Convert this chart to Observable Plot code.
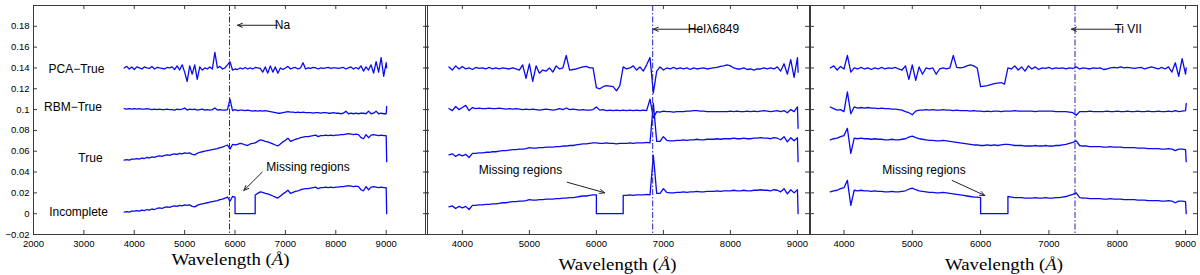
<!DOCTYPE html>
<html>
<head>
<meta charset="utf-8">
<script src="https://cdn.jsdelivr.net/npm/d3@7"></script>
<script src="https://cdn.jsdelivr.net/npm/@observablehq/plot@0.6"></script>
<style>
  html, body { margin: 0; padding: 0; background: #fff; }
  #chart { position: relative; width: 1200px; height: 275px; overflow: hidden; }
  #chart > div { position: absolute; top: 0; }
</style>
</head>
<body>
<div id="chart"></div>
<script>
// ---------- data (spectrum and residual values in units of 1e-3) ----------
const wavelengths = [
  3800,3850,3900,3950,4000,4050,4100,4150,4200,4250,
  4300,4350,4400,4450,4500,4550,4600,4650,4700,4750,
  4800,4850,4900,4950,5000,5050,5100,5150,5200,5250,
  5300,5350,5400,5450,5500,5550,5600,5650,5700,5750,
  5800,5850,5900,5950,6000,6050,6100,6150,6200,6250,
  6300,6350,6400,6450,6500,6550,6600,6650,6700,6750,
  6800,6850,6900,6950,7000,7050,7100,7150,7200,7250,
  7300,7350,7400,7450,7500,7550,7600,7650,7700,7750,
  7800,7850,7900,7950,8000,8050,8100,8150,8200,8250,
  8300,8350,8400,8450,8500,8550,8600,8650,8700,8750,
  8800,8850,8900,8950,9000,9010
];

const seriesNames = ["PCA\u2212True", "RBM\u2212True", "True", "Incomplete"];
const seriesOffsets = [0.14, 0.10, 0.05, 0];
const missingRange = [6000, 6400];

// Panel 1 (Na)
const p1Spectrum = [
  1.5,2,1.5,2.5,2.5,3,2.5,3.5,3,4,
  3.5,4.5,4,5,5.5,5,6,6.5,6,7,
  7.5,7,8,7.5,8.5,8,8.5,7,6.5,8,
  9,9.5,10,10.5,11,11.5,12,12.5,13.5,14,
  15,16,12,16.5,16,16.5,17.5,17,16,15.5,
  17,17.5,18,19.5,21,20.5,19.5,19,18,17,
  16,15,17,19,20.5,22.5,19.5,20.5,21.5,22,
  23,23.5,24,24,24.5,25,25.5,24,25,25,
  25.5,25,25.5,25,25.5,25.5,26,26,26.5,27,
  26.5,26,26.5,26,23,22,26,23,25.5,26,
  25.5,25,25.5,25,25,0
];
const p1Rbm = [
  1,0.5,1,0.5,1,0.5,1,0.5,0.5,1,
  0.5,0,0.5,0,0.5,0,0,0.5,0,0,
  -0.5,0.5,0,0.5,1.5,-0.5,0.5,0,0.5,-0.5,
  0,0.5,-0.5,0,-0.5,0,1.5,-0.5,0,-0.5,
  -0.5,0,10,-1,0,-1,-0.5,-0.5,-1,-0.5,
  -1,-1.5,-1,-1.5,-1,-1.5,-1,-1.5,-2,-2.5,
  -3,-3.5,-3.5,-3,-2.5,-2,-2.5,-2.5,-3,-2.5,
  -3,-2.5,-3,-3,-3,-3.5,-3,-3,-3.5,-3,
  -3,-3.5,-3.5,-3,-3.5,-3.5,-4,-3.5,-1.5,-4,
  -3.5,-4,-3.5,-4,-3.5,-3.5,-4,-1.5,-4,-3.5,
  -1.5,-4,-3.5,-4,-4,3
];
const p1Pca = [
  0,1.5,-1,1,-1.5,1,0,-1,1,0,
  -0.5,1.5,-1,0.5,0,-0.5,-1,0.5,0,1,
  -1.5,2,-2,3,-4,-13,2,-6,3,-11,
  1,-2,0,-1,1,-1,15,0,1.5,-1,
  0,3,6,-2,-1,-1.5,0,-1,0.5,-1,
  0,-1,0.5,0,-0.5,-4,1,-5,2,-4,
  1,-5,0,-1.5,0,1.5,-1,0,0.5,-1,
  0,5,-1,0,-0.5,0.5,0,-1,0,-0.5,
  0,0.5,-0.5,0,0,-0.5,0,0.5,-1,0,
  1,-1,0.5,-1,2,-3,1,-2,3,-5,
  6,-4,10,-8,5,0
];

// Panel 2 (HeI 6849)
const p2Spectrum = [
  6.5,7.5,5,7,5.5,7,4,8,8,8.5,
  8.5,9,9,9.5,9.5,10,10.5,10.5,11,11.5,
  11.5,12,12,12.5,13.5,13,13,13.5,13.5,14,
  14,14,14.5,14.5,15,15,15.5,15.5,16,16.5,
  17,17,17.5,18,18,17.5,17.5,18,17.5,17.5,
  17,17.5,17.5,17.5,18,17.5,18,18,18,18.5,
  18,56,19.5,19.5,24,20.5,20,20,20.5,20.5,
  21,20.5,21,21,21.5,21,21,21.5,21.5,21.5,
  22,21.5,22,22,22,22.5,22,22,22.5,22,
  22,22.5,22.5,23,22.5,22.5,22,23,22.5,21,
  24,19,23,20,23,0
];
const p2Rbm = [
  1,-1,3,0,2,4,-1,2,1,1.5,
  1,1,1.5,1,1,1.5,1,0.5,1,0.5,
  1,0.5,0,0.5,0,0.5,0,-0.5,0,0.5,
  0,-0.5,0,1,0,1.5,0,0.5,0,-0.5,
  0,-0.5,-0.5,0,2.5,-0.5,0,-1,-0.5,-1,
  -0.5,-1,-0.5,-1,-0.5,-1,-0.5,-1,-0.5,-1,
  10,-8,-2,-2.5,-1.5,-2,-2,-2.5,-2,-2,
  -2,-1.5,-1.5,-1,-1,-1.5,-1.5,-2,-2,-2,
  -2,-2,-2,-2,-1.5,-2,-1.5,-2,-2,-1.5,
  -2,-1.5,-2,-1.5,-1,-1.5,-2,-1.5,-1,-2,
  -1,-3,0,-2,2.5,-18
];
const p2Pca = [
  1,-2,2,-1,1.5,-1,0,-1.5,0.5,-0.5,
  0,-1,0.5,-1,0,-1,0,-0.5,-1,0,
  -1,-2,3,-10,4,-13,2,-5,-2,-3,
  0,-4,2,-1,0,12,-2,-1.5,-1,0,
  1,1.5,0,0,-19,-20,-18,-17,-17.5,-18,
  -22,-17,1,-1,0,2,-2,1,-3,3,
  10,-24,-3,1,-2,0,-1,0.5,-1,0,
  -1,0,-1.5,0,-1,-0.5,0,-1,-0.5,0,
  0.5,1.5,2,3,2,0,-1,-1,0,-1.5,
  -1,-2,-1,-1,0,-1,0,-1,1,-3,
  4,-6,8,-9,10,-4
];

// Panel 3 (Ti VII)
const p3Spectrum = [
  21,22,22.5,24,25,32,8,22.5,22,22.5,
  22,22,21.5,22,21.5,21.5,21,21,21.5,21,
  21,21.5,22,23.5,24.5,23,22,21.5,21,20.5,
  20.5,20,20,20.5,20,19.5,19,18.5,18,17.5,
  17,16.5,16,16,15.5,15.5,16,15.5,16,15.5,
  16,16.5,16.5,16,15.5,15.5,15.5,15,15,15,
  15.5,15,15,15.5,15,15,15.5,15.5,16,16.5,
  17.5,18.5,20,15.5,15,15,14.5,14.5,14.5,14.5,
  14,14,14.5,14,14,14,13.5,13.5,13.5,13.5,
  13,13,13,12.5,12.5,12.5,12.5,12,12,12.5,
  12,10.5,12,12,11.5,0
];
const p3Rbm = [
  2.5,1,-0.5,0,-2,17,-4,2.5,1.5,2,
  1.5,2,1.5,1.5,1,1.5,1,1,0.5,0.5,
  0,-0.5,-2,-3,-5,-1.5,-0.5,-0.5,0,-0.5,
  0,-0.5,-0.5,0,-0.5,-0.5,-1,-0.5,-1,-1,
  -1,-1.5,-1,-1.5,-1.5,-2,-1.5,-2,-1.5,-1.5,
  -2,-1.5,-1.5,-1.5,-1,-1.5,-1.5,-1.5,-1.5,-1.5,
  -2,-1.5,-1.5,-1.5,-1.5,-1.5,-2,-2,-2,-2,
  -2.5,-3,-5.5,-2,-2,-2,-1.5,-2,-2,-2,
  -2,-1.5,-2,-2,-1.5,-2,-2,-1.5,-2,-2,
  -1.5,-2,-2,-1.5,-2,-2,-1.5,-2,-2,-1.5,
  -2,-1,-2,-1.5,-1,6
];
const p3Pca = [
  0,2,-2,1.5,-1,12,-4,0,-1,0.5,
  -1,0,-1.5,0,-1,0.5,-1,0,-0.5,0.5,
  -1,-2,2,-11,3,-12,1,-6,0,-1,
  0,-6,-1,0,-1,0,12,0.5,0,0.5,
  2,3,2,0,-18,-17.5,-17,-16,-15,-14.5,
  -14,-15.5,0,-1,2,-2,1,-3,2,-1,
  1,-1.5,0,-0.5,0.5,-1,0,-0.5,0,-1,
  0,-0.5,1,-1,0,-0.5,-1,0,-0.5,0,
  -1.5,-1,0,0.5,0,1,0,0.5,0,-0.5,
  0,0.5,-1,0,1,0,-1,0.5,-1,1,
  -4,5,-8,9,-6,0
];

// axes
const xTicksP1 = [2000,3000,4000,5000,6000,7000,8000,9000];
const xTicksP23 = [4000,5000,6000,7000,8000,9000];
const yTicks = [-0.02,0,0.02,0.04,0.06,0.08,0.1,0.12,0.14,0.16,0.18];
const xDomains = [[2000, 9820], [3450, 9180], [3510, 9175]];
const yDomain = [-0.02, 0.2];
const axisTitle = "Wavelength (\u00c5)";

// annotations
const p1Lines = [5890];
const p2Lines = [6840];
const p3Lines = [7382];
const p1Arrows = [{x1: 6843, y1: 0.181, x2: 6049, y2: 0.181}, {x1: 6539, y1: 0.0399, x2: 6174, y2: 0.0223}];
const p2Arrows = [{x1: 7579, y1: 0.1772, x2: 6850, y2: 0.1772}, {x1: 5564, y1: 0.0302, x2: 6125, y2: 0.0201}];
const p3Arrows = [{x1: 8048, y1: 0.1772, x2: 7330, y2: 0.1772}, {x1: 5584, y1: 0.0319, x2: 6061, y2: 0.0175}];
const p1Notes = [{x: 6942, y: 0.181, text: "Na", anchor: "start"}, {x: 7448, y: 0.0447, text: "Missing regions", anchor: "middle"}];
const p2Notes = [{x: 7747, y: 0.1772, text: "HeI\u03bb6849", anchor: "start"}, {x: 4868, y: 0.0415, text: "Missing regions", anchor: "middle"}];
const p3Notes = [{x: 8160, y: 0.1772, text: "Ti VII", anchor: "start"}, {x: 5171, y: 0.0415, text: "Missing regions", anchor: "middle"}];
const seriesLabelX = [2853, 2784, 3131, 2893];
const seriesLabelY = [0.1385, 0.102, 0.053, 0.0011];

// ---------- build rows ----------
function buildRows(spec, rbm, pca) {
  const rows = [];
  const push = (s, x, v) => rows.push({series: seriesNames[s], x, y: seriesOffsets[s] + v / 1000});
  wavelengths.forEach((w, i) => push(0, w, pca[i]));
  wavelengths.forEach((w, i) => push(1, w, rbm[i]));
  wavelengths.forEach((w, i) => push(2, w, spec[i]));
  wavelengths.forEach((w, i) => {
    if (w === missingRange[0]) { push(3, w, spec[i]); push(3, w, 0); }
    else if (w > missingRange[0] && w < missingRange[1]) push(3, w, 0);
    else if (w === missingRange[1]) { push(3, w, 0); push(3, w, spec[i]); }
    else push(3, w, spec[i]);
  });
  return rows;
}

const H = 275, MT = 5, MB = 41;
const blue = "#0a0af0";
const frameColor = "#3a3a3a";
const sansFont = "'Liberation Sans', Arial, Helvetica, sans-serif";

function panel({left, width, ml, mr, domain, xTicks, showY, rows, lines, arrows, notes, titleDy, seriesLabels}) {
  const innerW = width - ml - mr, innerH = H - MT - MB;
  const marks = [
    Plot.line(rows, {x: "x", y: "y", z: "series", stroke: blue, strokeWidth: 1.3}),
    Plot.ruleX(lines, {x: d => d, stroke: "#2222c0", strokeWidth: 1, strokeDasharray: "6,2,1.5,2"}),
    Plot.arrow(arrows, {x1: "x1", y1: "y1", x2: "x2", y2: "y2", stroke: "#222", strokeWidth: 1, headLength: 8, headAngle: 45}),
    Plot.text(notes, {x: "x", y: "y", text: "text", textAnchor: d => d.anchor, fontSize: 12, fill: "black", fontFamily: sansFont}),
    Plot.tickX(xTicks, {x: d => d, insetTop: innerH - 4, stroke: frameColor}),
    Plot.tickX(xTicks, {x: d => d, insetBottom: innerH - 4, stroke: frameColor}),
    Plot.tickY(yTicks, {y: d => d, insetRight: innerW - 4, stroke: frameColor}),
    Plot.tickY(yTicks, {y: d => d, insetLeft: innerW - 4, stroke: frameColor}),
    Plot.axisX(xTicks, {anchor: "bottom", tickSize: 0, tickPadding: 6, fontSize: 9.5, label: null, tickFormat: d => String(d)}),
    Plot.text([axisTitle], {frameAnchor: "bottom", dy: titleDy, text: d => d, fontFamily: "'Liberation Serif', 'DejaVu Serif', serif", fontSize: 16, lineAnchor: "middle", fill: "black"}),
    Plot.frame({stroke: frameColor, strokeWidth: 1})
  ];
  if (showY) {
    marks.push(Plot.axisY(yTicks, {anchor: "left", tickSize: 0, tickPadding: 4, fontSize: 9.5, label: null,
      tickFormat: d => d === 0 ? "0" : (d < 0 ? "\u2212" : "") + String(Math.abs(+d.toFixed(2)))}));
  }
  if (seriesLabels) {
    marks.push(Plot.text(seriesLabels, {x: "x", y: "y", text: "text", fontSize: 12, fill: "black", fontFamily: sansFont}));
  }
  const yScale = showY ? {domain: yDomain, type: "linear"} : {domain: yDomain, type: "linear", axis: null};
  const svg = Plot.plot({
    width, height: H, marginLeft: ml, marginRight: mr, marginTop: MT, marginBottom: MB,
    style: {background: "transparent", overflow: "visible", fontFamily: sansFont, color: "black"},
    x: {domain, type: "linear"},
    y: yScale,
    marks
  });
  // italic Å in the axis title
  d3.select(svg).selectAll("text").filter(function () { return this.textContent === axisTitle; })
    .each(function () {
      const t = d3.select(this);
      t.text(null);
      t.append("tspan").text("Wavelength (");
      t.append("tspan").attr("font-style", "italic").text("\u00c5");
      t.append("tspan").text(")");
      t.attr("textLength", 118).attr("lengthAdjust", "spacingAndGlyphs");
    });
  const holder = document.createElement("div");
  holder.style.left = left + "px";
  holder.appendChild(svg);
  document.getElementById("chart").appendChild(holder);
}

const labels = seriesNames.map((n, i) => ({text: n, x: seriesLabelX[i], y: seriesLabelY[i]}));

panel({left: 0, width: 430, ml: 33, mr: 3, domain: xDomains[0], xTicks: xTicksP1, showY: true,
  rows: buildRows(p1Spectrum, p1Rbm, p1Pca), lines: p1Lines, arrows: p1Arrows, notes: p1Notes, titleDy: 25, seriesLabels: labels});
panel({left: 420, width: 392, ml: 5, mr: 3, domain: xDomains[1], xTicks: xTicksP23, showY: false,
  rows: buildRows(p2Spectrum, p2Rbm, p2Pca), lines: p2Lines, arrows: p2Arrows, notes: p2Notes, titleDy: 30});
panel({left: 805, width: 395, ml: 5, mr: 3, domain: xDomains[2], xTicks: xTicksP23, showY: false,
  rows: buildRows(p3Spectrum, p3Rbm, p3Pca), lines: p3Lines, arrows: p3Arrows, notes: p3Notes, titleDy: 30});
</script>
</body>
</html>
